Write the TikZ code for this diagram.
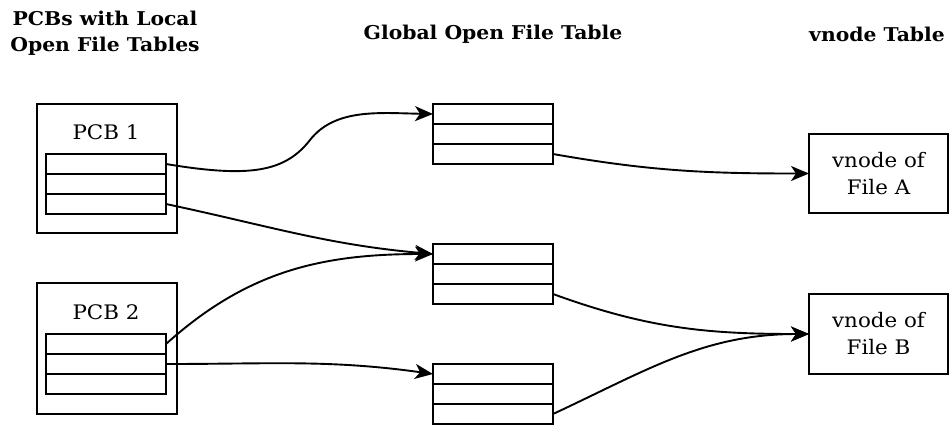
\documentclass[tikz,border=0pt]{standalone}
\usepackage{fontspec}
\setmainfont[FakeStretch=1.07]{DejaVu Serif}
\usetikzlibrary{arrows.meta}
\begin{document}
\begin{tikzpicture}[x=1pt,y=1pt,
  cell/.style={draw, line width=2.1pt, minimum width=120pt, minimum height=20pt, inner sep=0pt, outer sep=0pt},
  box/.style={draw, line width=2.1pt, inner sep=0pt, outer sep=0pt},
  lbl/.style={font=\fontsize{20}{27}\selectfont, align=center, inner sep=0pt},
  ttl/.style={font=\fontsize{19}{26}\selectfont\bfseries, align=center, inner sep=0pt},
  conn/.style={line width=1.9pt, -{Stealth[length=18pt,width=15pt,inset=5pt]}}]
\useasboundingbox (0,0) rectangle (949,-424);
% titles
\node[ttl] (t1) at (105,-33) {PCBs with Local\\Open File Tables};
\node[ttl] (t2) at (493,-34) {Global Open File Table};
\node[ttl] (t3) at (877,-34) {vnode Table};
% PCB 1
\node[box, minimum width=140pt, minimum height=129pt] (pcb1) at (107,-168.5) {};
\node[lbl] (pcb1l) at (106,-132) {PCB 1};
\node[cell] (p1a) at (106,-164) {};
\node[cell] (p1b) at (106,-184) {};
\node[cell] (p1c) at (106,-204) {};
% PCB 2
\node[box, minimum width=140pt, minimum height=131pt] (pcb2) at (107,-348.5) {};
\node[lbl] (pcb2l) at (106,-312) {PCB 2};
\node[cell] (p2a) at (106,-344) {};
\node[cell] (p2b) at (106,-364) {};
\node[cell] (p2c) at (106,-384) {};
% global tables
\node[cell] (g1a) at (493,-114) {};
\node[cell] (g1b) at (493,-134) {};
\node[cell] (g1c) at (493,-154) {};
\node[cell] (g2a) at (493,-254) {};
\node[cell] (g2b) at (493,-274) {};
\node[cell] (g2c) at (493,-294) {};
\node[cell] (g3a) at (493,-374) {};
\node[cell] (g3b) at (493,-394) {};
\node[cell] (g3c) at (493,-414) {};
% vnodes
\node[box, lbl, minimum width=139pt, minimum height=79pt] (vA) at (878.5,-173.5) {vnode of\\File A};
\node[box, lbl, minimum width=139pt, minimum height=80pt] (vB) at (878.5,-334) {vnode of\\File B};
% connectors
\coordinate (k1) at (310,-140);
\draw[conn] (p1a.east) .. controls (250,-178) and (285,-172) .. (k1) .. controls (335,-108) and (380,-113) .. (g1a.west);
\draw[conn] (p1c.east) to[out=-12,in=175] (g2a.west);
\draw[conn] (p2a.east) to[out=42,in=180] (g2a.west);
\draw[conn] (p2b.east) to[out=0,in=172] (g3a.west);
\draw[conn] (g1c.east) to[out=-10,in=180] (vA.west);
\draw[conn] (g2c.east) to[out=-20,in=180] (vB.west);
\draw[conn] (g3c.east) to[out=25,in=180] (vB.west);
\end{tikzpicture}
\end{document}
